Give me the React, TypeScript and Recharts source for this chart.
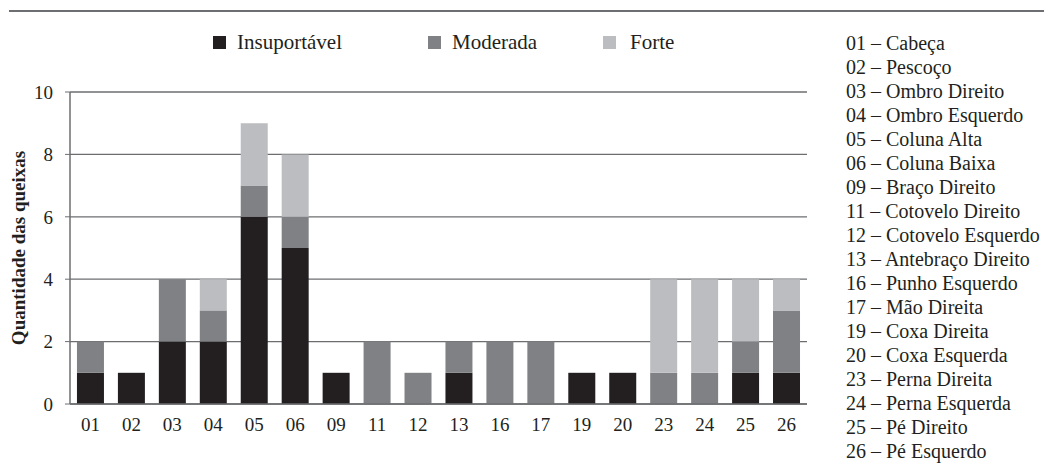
import { Bar, BarChart, CartesianGrid, XAxis, YAxis } from "recharts";

const categories = ["01", "02", "03", "04", "05", "06", "09", "11", "12", "13", "16", "17", "19", "20", "23", "24", "25", "26"];
const insuportavel = [1, 1, 2, 2, 6, 5, 1, 0, 0, 1, 0, 0, 1, 1, 0, 0, 1, 1];
const moderada = [1, 0, 2, 1, 1, 1, 0, 2, 1, 1, 2, 2, 0, 0, 1, 1, 1, 2];
const forte = [0, 0, 0, 1, 2, 2, 0, 0, 0, 0, 0, 0, 0, 0, 3, 3, 2, 1];
const yTicks = [0, 2, 4, 6, 8, 10];
const bodyParts = [
  "01 – Cabeça",
  "02 – Pescoço",
  "03 – Ombro Direito",
  "04 – Ombro Esquerdo",
  "05 – Coluna Alta",
  "06 – Coluna Baixa",
  "09 – Braço Direito",
  "11 – Cotovelo Direito",
  "12 – Cotovelo Esquerdo",
  "13 – Antebraço Direito",
  "16 – Punho Esquerdo",
  "17 – Mão Direita",
  "19 – Coxa Direita",
  "20 – Coxa Esquerda",
  "23 – Perna Direita",
  "24 – Perna Esquerda",
  "25 – Pé Direito",
  "26 – Pé Esquerdo",
];

const C_INS = "#231f20";
const C_MOD = "#808184";
const C_FOR = "#bcbdc0";
const C_LINE = "#6d6e71";
const FONT = "'Liberation Serif', 'DejaVu Serif', serif";

const data = categories.map((c, i) => ({
  cat: c,
  ins: insuportavel[i],
  mod: moderada[i],
  for: forte[i],
}));

// legend boxes: square left, text left
const legendItems = [
  { label: "Insuportável", color: C_INS, box: 213, text: 237 },
  { label: "Moderada", color: C_MOD, box: 428, text: 452 },
  { label: "Forte", color: C_FOR, box: 603, text: 630 },
];

export default function App() {
  return (
    <div style={{ position: "relative", width: 1052, height: 473, margin: -8, background: "#fff", fontFamily: FONT, color: C_INS, overflow: "hidden" }}>
      <div style={{ position: "absolute", left: 9, top: 10, width: 1043, height: 2, background: C_LINE }} />
      {legendItems.map((l) => (
        <div key={l.label}>
          <div style={{ position: "absolute", left: l.box, top: 36, width: 13, height: 13, background: l.color }} />
          <div style={{ position: "absolute", left: l.text, top: 30, fontSize: 21, lineHeight: "24px" }}>{l.label}</div>
        </div>
      ))}
      <div style={{ position: "absolute", left: 846, top: 31, fontSize: 20, lineHeight: "24px", whiteSpace: "nowrap" }}>
        {bodyParts.map((p) => (
          <div key={p}>{p}</div>
        ))}
      </div>
      <div style={{ position: "absolute", left: 0, top: 0 }}>
        <BarChart
          width={820}
          height={473}
          data={data}
          margin={{ top: 92, right: 13, bottom: 39, left: 0 }}
          barCategoryGap="17%"
        >
          <CartesianGrid vertical={false} stroke={C_LINE} strokeWidth={1.3} />
          <XAxis
            dataKey="cat"
            tickLine={false}
            axisLine={{ stroke: C_LINE, strokeWidth: 1.5 }}
            tick={{ fill: C_INS, fontSize: 19, fontFamily: FONT }}
            tickMargin={8}
            interval={0}
          />
          <YAxis
            width={70}
            domain={[0, 10]}
            ticks={yTicks}
            tickSize={5}
            tickLine={{ stroke: C_LINE }}
            axisLine={{ stroke: C_LINE, strokeWidth: 1.5 }}
            tick={{ fill: C_INS, fontSize: 19, fontFamily: FONT }}
            tickMargin={12}
            label={{
              value: "Quantidade das queixas",
              angle: -90,
              position: "insideLeft",
              offset: 18,
              style: { textAnchor: "middle", fontWeight: "bold", fontSize: 19, fontFamily: FONT, fill: C_INS },
            }}
          />
          <Bar dataKey="ins" stackId="a" fill={C_INS} isAnimationActive={false} />
          <Bar dataKey="mod" stackId="a" fill={C_MOD} isAnimationActive={false} />
          <Bar dataKey="for" stackId="a" fill={C_FOR} isAnimationActive={false} />
        </BarChart>
      </div>
    </div>
  );
}
